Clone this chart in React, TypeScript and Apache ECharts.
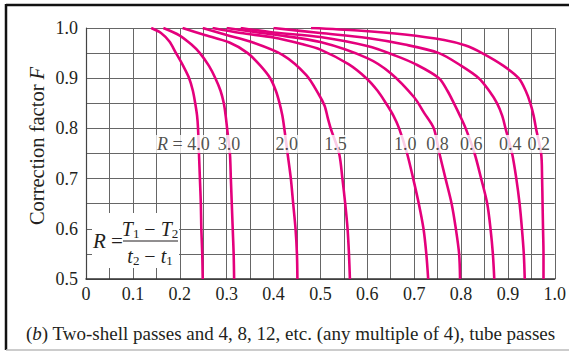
import React, { useEffect, useRef } from 'react';
import * as echarts from 'echarts';

// Curve values: [P, F]
const rValues = ['4.0', '3.0', '2.0', '1.5', '1.0', '0.8', '0.6', '0.4', '0.2'];

const curveR40: [number, number][] = [[0.139,1.0],[0.16,0.99],[0.178,0.973],[0.192,0.95],[0.207,0.925],[0.220,0.9],[0.228,0.875],[0.233,0.85],[0.237,0.825],[0.239,0.8],[0.241,0.75],[0.243,0.7],[0.245,0.65],[0.246,0.6],[0.248,0.55],[0.249,0.5]];
const curveR30: [number, number][] = [[0.165,1.0],[0.2,0.985],[0.225,0.967],[0.243,0.95],[0.262,0.925],[0.276,0.9],[0.287,0.875],[0.294,0.85],[0.298,0.825],[0.301,0.8],[0.307,0.75],[0.309,0.7],[0.311,0.65],[0.313,0.6],[0.315,0.55],[0.316,0.5]];
const curveR20: [number, number][] = [[0.206,1.0],[0.25,0.987],[0.306,0.971],[0.345,0.95],[0.372,0.925],[0.393,0.9],[0.405,0.875],[0.413,0.85],[0.419,0.825],[0.423,0.8],[0.430,0.75],[0.437,0.7],[0.442,0.65],[0.447,0.6],[0.450,0.55],[0.451,0.5]];
const curveR15: [number, number][] = [[0.249,1.0],[0.3,0.986],[0.35,0.973],[0.42,0.946],[0.47,0.906],[0.497,0.867],[0.509,0.845],[0.516,0.82],[0.522,0.8],[0.540,0.75],[0.547,0.7],[0.553,0.65],[0.558,0.6],[0.561,0.55],[0.563,0.5]];
const curveR10: [number, number][] = [[0.27,1.0],[0.33,0.99],[0.4,0.981],[0.46,0.968],[0.5,0.957],[0.56,0.928],[0.598,0.9],[0.622,0.875],[0.64,0.85],[0.656,0.825],[0.668,0.8],[0.685,0.75],[0.698,0.7],[0.710,0.65],[0.720,0.6],[0.726,0.55],[0.730,0.5]];
const curveR08: [number, number][] = [[0.30,1.0],[0.36,0.992],[0.4,0.987],[0.5,0.972],[0.6,0.94],[0.65,0.91],[0.7,0.862],[0.722,0.83],[0.742,0.8],[0.754,0.75],[0.767,0.7],[0.780,0.65],[0.789,0.6],[0.796,0.55],[0.798,0.5]];
const curveR06: [number, number][] = [[0.33,1.0],[0.4,0.991],[0.5,0.982],[0.6,0.964],[0.66,0.945],[0.705,0.927],[0.753,0.9],[0.771,0.875],[0.785,0.85],[0.798,0.825],[0.810,0.8],[0.829,0.75],[0.843,0.7],[0.856,0.65],[0.863,0.6],[0.868,0.55],[0.871,0.5]];
const curveR04: [number, number][] = [[0.40,1.0],[0.5,0.99],[0.6,0.98],[0.68,0.967],[0.753,0.95],[0.8,0.925],[0.838,0.9],[0.860,0.875],[0.877,0.85],[0.888,0.825],[0.895,0.8],[0.909,0.75],[0.918,0.7],[0.925,0.65],[0.930,0.6],[0.934,0.55],[0.936,0.5]];
const curveR02: [number, number][] = [[0.48,1.0],[0.58,0.995],[0.68,0.987],[0.764,0.976],[0.81,0.965],[0.845,0.95],[0.89,0.925],[0.923,0.9],[0.938,0.875],[0.948,0.85],[0.955,0.825],[0.960,0.8],[0.971,0.75],[0.973,0.7],[0.974,0.65],[0.975,0.6],[0.976,0.55],[0.976,0.5]];

const curves = [curveR40, curveR30, curveR20, curveR15, curveR10, curveR08, curveR06, curveR04, curveR02];

// Curve labels and where they sit (P along the label row)
const labelTexts = ['{i|R} = 4.0', '3.0', '2.0', '1.5', '1.0', '0.8', '0.6', '0.4', '0.2'];
const labelP = [0.2077, 0.305, 0.428, 0.532, 0.681, 0.750, 0.822, 0.905, 0.966];
const labelF = 0.769;

const xTickLabels = ['0', '0.1', '0.2', '0.3', '0.4', '0.5', '0.6', '0.7', '0.8', '0.9', '1.0'];
const yTickLabels = ['0.5', '0.6', '0.7', '0.8', '0.9', '1.0'];

const yName = '{n|Correction factor }{i|F}';
const caption = '({i|b}) Two-shell passes and 4, 8, 12, etc. (any multiple of 4), tube passes';

const FONT = '"Liberation Serif", "Times New Roman", serif';
const PINK = '#E4007C';
const TXT = '#231F20';

export default function App() {
  const ref = useRef<HTMLDivElement>(null);
  useEffect(() => {
    if (!ref.current) return;
    const chart = echarts.init(ref.current, null, { renderer: 'svg' });
    const italic = { fontStyle: 'italic', fontFamily: FONT };
    const option: any = {
      animation: false,
      backgroundColor: '#fff',
      textStyle: { fontFamily: FONT, color: TXT },
      grid: { left: 86, right: 13, top: 28, bottom: 74, show: false },
      xAxis: {
        type: 'value', min: 0, max: 1, interval: 0.05,
        axisLine: { show: true, lineStyle: { color: '#333', width: 1.5 } },
        axisTick: { show: false },
        splitLine: { show: true, lineStyle: { color: '#666', width: 1 } },
        axisLabel: {
          margin: 6, fontSize: 18, color: TXT, fontFamily: FONT,
          formatter: (v: number) => {
            const i = Math.round(v * 20);
            return i % 2 === 0 ? xTickLabels[i / 2] : '';
          },
        },
      },
      yAxis: {
        type: 'value', min: 0.5, max: 1, interval: 0.05,
        axisLine: { show: true, lineStyle: { color: '#444', width: 1.2 } },
        axisTick: { show: false },
        splitLine: { show: true, lineStyle: { color: '#666', width: 1 } },
        axisLabel: {
          margin: 8, fontSize: 18, color: TXT, fontFamily: FONT,
          formatter: (v: number) => {
            const i = Math.round((v - 0.5) * 20);
            return i % 2 === 0 ? yTickLabels[i / 2] : '';
          },
        },
      },
      series: [
        ...curves.map((d, i) => ({
          type: 'line', name: 'R = ' + rValues[i], data: d, symbol: 'none', smooth: 0.3,
          lineStyle: { color: PINK, width: 2.6 }, z: 3, silent: true, clip: true,
        })),
        {
          type: 'scatter', z: 6, silent: true, symbolSize: 1,
          itemStyle: { color: 'rgba(0,0,0,0)' },
          data: labelP.map((p, i) => [p, labelF, i]),
          label: {
            show: true, position: 'inside', color: TXT, fontSize: 18, fontFamily: FONT,
            lineHeight: 17, backgroundColor: '#fff', padding: [1, 1, 0, 1],
            formatter: (p: any) => labelTexts[p.data[2]],
            rich: { i: { ...italic, fontSize: 18, color: TXT, lineHeight: 17 } },
          },
        },
      ],
      graphic: [
        // frame lines
        { type: 'line', z: 100, shape: { x1: 6, y1: 5, x2: 569, y2: 5 }, style: { stroke: '#111', lineWidth: 2.5 } },
        { type: 'line', z: 100, shape: { x1: 6, y1: 4, x2: 6, y2: 350 }, style: { stroke: '#111', lineWidth: 2.5 } },
        { type: 'line', z: 100, shape: { x1: 6, y1: 350, x2: 569, y2: 350 }, style: { stroke: '#bbb', lineWidth: 1.5 } },
        // y-axis title
        {
          type: 'text', z: 100, x: 37, y: 146, rotation: Math.PI / 2,
          style: {
            text: yName, align: 'center', verticalAlign: 'middle', fill: TXT,
            font: '20.5px ' + FONT,
            rich: { n: { fontSize: 20.5, fontFamily: FONT, fill: TXT }, i: { ...italic, fontSize: 20.5, fill: TXT } },
          },
        },
        // caption
        {
          type: 'text', z: 100, x: 26, y: 333,
          style: {
            text: caption, align: 'left', verticalAlign: 'middle', fill: TXT,
            font: '19px ' + FONT,
            rich: { i: { ...italic, fontSize: 19, fill: TXT } },
          },
        },
        // formula box
        { type: 'rect', z: 100, shape: { x: 92, y: 213, width: 87, height: 55 }, style: { fill: '#fff' } },
        {
          type: 'text', z: 101, x: 93, y: 241,
          style: {
            text: '{i|R} =', align: 'left', verticalAlign: 'middle', fill: TXT, font: '21px ' + FONT,
            rich: { i: { ...italic, fontSize: 21, fill: TXT } },
          },
        },
        {
          type: 'text', z: 101, x: 150, y: 229,
          style: {
            text: '{i|T}{s|1} − {i|T}{s|2}', align: 'center', verticalAlign: 'middle', fill: TXT, font: '20px ' + FONT,
            rich: {
              i: { ...italic, fontSize: 20, lineHeight: 22, fill: TXT },
              s: { fontSize: 13, lineHeight: 12, verticalAlign: 'bottom', fontFamily: FONT, fill: TXT },
            },
          },
        },
        { type: 'line', z: 101, shape: { x1: 123, y1: 241, x2: 178, y2: 241 }, style: { stroke: TXT, lineWidth: 1 } },
        {
          type: 'text', z: 101, x: 150, y: 256,
          style: {
            text: '{i|t}{s|2} − {i|t}{s|1}', align: 'center', verticalAlign: 'middle', fill: TXT, font: '20px ' + FONT,
            rich: {
              i: { ...italic, fontSize: 20, lineHeight: 22, fill: TXT },
              s: { fontSize: 13, lineHeight: 12, verticalAlign: 'bottom', fontFamily: FONT, fill: TXT },
            },
          },
        },
      ],
    };
    chart.setOption(option);
    return () => chart.dispose();
  }, []);
  return <div ref={ref} style={{ position: 'absolute', left: 0, top: 0, width: 569, height: 353, background: '#fff' }} />;
}
